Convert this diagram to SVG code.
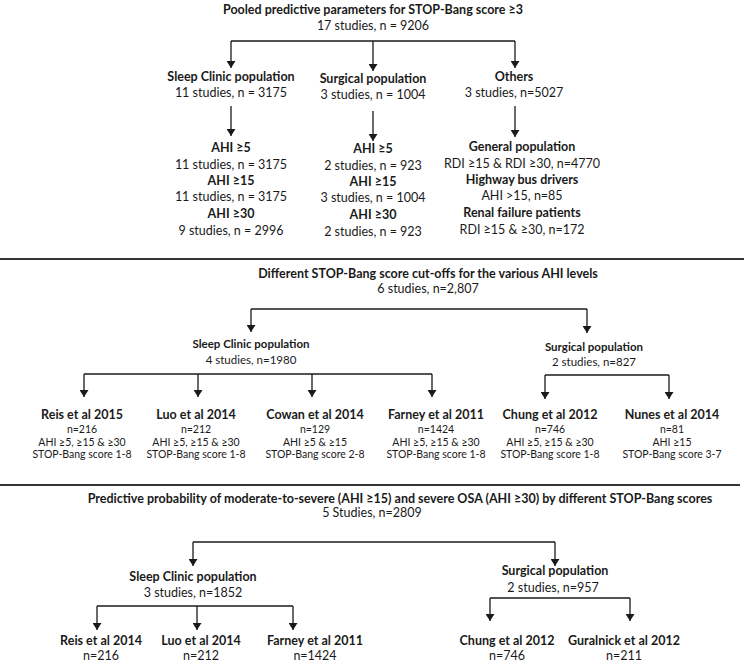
<svg xmlns="http://www.w3.org/2000/svg" width="744" height="669" viewBox="0 0 744 669">
<defs>
<marker id="ah" markerUnits="userSpaceOnUse" markerWidth="8" markerHeight="9" refX="7" refY="4.5" orient="auto">
<path d="M0,0 L7,4.5 L0,9 z" fill="#1a1a1a"/>
</marker>
<style>
text{font-family:Lato,"Liberation Sans",sans-serif;fill:#1a1a1a;text-anchor:middle}
.b{font-weight:bold;font-size:12.5px}
.r{font-size:12.5px}
.bm{font-weight:bold;font-size:11.5px}
.rm{font-size:11.5px}
.bn{font-weight:bold;font-size:12.5px}
.rs{font-size:10.5px}
.c{fill:none;stroke:#1a1a1a;stroke-width:1.3}
.a{marker-end:url(#ah)}
.sep{fill:none;stroke:#333;stroke-width:2}
</style>
</defs>
<rect width="744" height="669" fill="#fff"/>
<g id="connectors">
<path class="c" d="M231,41 H515"/>
<path class="c a" d="M231,41 V68"/>
<path class="c a" d="M373,41 V71"/>
<path class="c a" d="M515,41 V68"/>
<path class="c a" d="M231,106 V136"/>
<path class="c a" d="M373,111 V141"/>
<path class="c a" d="M515,106 V137"/>
<path class="sep" d="M0,259 H744"/>
<path class="c" d="M251,309 H587"/>
<path class="c a" d="M251,309 V332"/>
<path class="c a" d="M587,309 V333"/>
<path class="c" d="M84,374 H432"/>
<path class="c a" d="M84,374 V397"/>
<path class="c a" d="M198,374 V397"/>
<path class="c a" d="M312,374 V397"/>
<path class="c a" d="M432,374 V397"/>
<path class="c" d="M545,375 H669"/>
<path class="c a" d="M545,375 V399"/>
<path class="c a" d="M669,375 V399"/>
<path class="sep" d="M0,485 H740"/>
<path class="c" d="M193,542 H555"/>
<path class="c a" d="M193,542 V566"/>
<path class="c a" d="M555,542 V566"/>
<path class="c" d="M97,606 H293"/>
<path class="c a" d="M97,606 V630"/>
<path class="c a" d="M197,606 V630"/>
<path class="c a" d="M293,606 V630"/>
<path class="c" d="M490,598 H630"/>
<path class="c a" d="M490,598 V621"/>
<path class="c a" d="M630,598 V621"/>
</g>
<g id="pooled-root">
<text class="b" x="373" y="14">Pooled predictive parameters for STOP-Bang score ≥3</text>
<text class="r" x="373" y="30">17 studies, n = 9206</text>
</g>
<g id="pooled-sleep">
<text class="b" x="231" y="81">Sleep Clinic population</text>
<text class="r" x="231" y="97">11 studies, n = 3175</text>
</g>
<g id="pooled-surgical">
<text class="b" x="373" y="83">Surgical population</text>
<text class="r" x="373" y="99">3 studies, n = 1004</text>
</g>
<g id="pooled-others">
<text class="b" x="514" y="81">Others</text>
<text class="r" x="514" y="97">3 studies, n=5027</text>
</g>
<g id="pooled-sleep-ahi">
<text class="b" x="231" y="152">AHI ≥5</text>
<text class="r" x="231" y="168.5">11 studies, n = 3175</text>
<text class="b" x="231" y="185">AHI ≥15</text>
<text class="r" x="231" y="201">11 studies, n = 3175</text>
<text class="b" x="231" y="218">AHI ≥30</text>
<text class="r" x="231" y="235">9 studies, n = 2996</text>
</g>
<g id="pooled-surgical-ahi">
<text class="b" x="373" y="153">AHI ≥5</text>
<text class="r" x="373" y="170">2 studies, n = 923</text>
<text class="b" x="373" y="186">AHI ≥15</text>
<text class="r" x="373" y="202">3 studies, n = 1004</text>
<text class="b" x="373" y="219">AHI ≥30</text>
<text class="r" x="373" y="236">2 studies, n = 923</text>
</g>
<g id="pooled-others-list">
<text class="b" x="522" y="151">General population</text>
<text class="r" x="522" y="168">RDI ≥15 &amp; RDI ≥30, n=4770</text>
<text class="b" x="522" y="184">Highway bus drivers</text>
<text class="r" x="522" y="200">AHI &gt;15, n=85</text>
<text class="b" x="522" y="216.5">Renal failure patients</text>
<text class="r" x="522" y="234">RDI ≥15 &amp; ≥30, n=172</text>
</g>
<g id="cutoff-root">
<text class="b" x="428" y="278">Different STOP-Bang score cut-offs for the various AHI levels</text>
<text class="r" x="428" y="293">6 studies, n=2,807</text>
</g>
<g id="cutoff-sleep">
<text class="bm" x="251" y="348">Sleep Clinic population</text>
<text class="rm" x="251" y="364">4 studies, n=1980</text>
</g>
<g id="cutoff-surgical">
<text class="bm" x="594" y="351">Surgical population</text>
<text class="rm" x="594" y="366">2 studies, n=827</text>
</g>
<g id="cutoff-reis">
<text class="bn" x="82" y="419">Reis et al 2015</text>
<text class="rs" x="82" y="432.5">n=216</text>
<text class="rs" x="82" y="445.5">AHI ≥5, ≥15 &amp; ≥30</text>
<text class="rs" x="82" y="458">STOP-Bang score 1-8</text>
</g>
<g id="cutoff-luo">
<text class="bn" x="196" y="419">Luo et al 2014</text>
<text class="rs" x="196" y="432.5">n=212</text>
<text class="rs" x="196" y="445.5">AHI ≥5, ≥15 &amp; ≥30</text>
<text class="rs" x="196" y="458">STOP-Bang score 1-8</text>
</g>
<g id="cutoff-cowan">
<text class="bn" x="315" y="419">Cowan et al 2014</text>
<text class="rs" x="315" y="432.5">n=129</text>
<text class="rs" x="315" y="445.5">AHI ≥5 &amp; ≥15</text>
<text class="rs" x="315" y="458">STOP-Bang score 2-8</text>
</g>
<g id="cutoff-farney">
<text class="bn" x="436" y="419">Farney et al 2011</text>
<text class="rs" x="436" y="432.5">n=1424</text>
<text class="rs" x="436" y="445.5">AHI ≥5, ≥15 &amp; ≥30</text>
<text class="rs" x="436" y="458">STOP-Bang score 1-8</text>
</g>
<g id="cutoff-chung">
<text class="bn" x="550" y="419">Chung et al 2012</text>
<text class="rs" x="550" y="432.5">n=746</text>
<text class="rs" x="550" y="445.5">AHI ≥5, ≥15 &amp; ≥30</text>
<text class="rs" x="550" y="458">STOP-Bang score 1-8</text>
</g>
<g id="cutoff-nunes">
<text class="bn" x="672" y="419">Nunes et al 2014</text>
<text class="rs" x="672" y="432.5">n=81</text>
<text class="rs" x="672" y="445.5">AHI ≥15</text>
<text class="rs" x="672" y="458">STOP-Bang score 3-7</text>
</g>
<g id="prob-root">
<text class="b" x="400" y="503">Predictive probability of moderate-to-severe (AHI ≥15) and severe OSA (AHI ≥30) by different STOP-Bang scores</text>
<text class="r" x="372" y="517">5 Studies, n=2809</text>
</g>
<g id="prob-sleep">
<text class="b" x="193" y="581">Sleep Clinic population</text>
<text class="r" x="193" y="597">3 studies, n=1852</text>
</g>
<g id="prob-surgical">
<text class="b" x="555" y="575">Surgical population</text>
<text class="r" x="553" y="592">2 studies, n=957</text>
</g>
<g id="prob-reis">
<text class="b" x="101" y="645">Reis et al 2014</text>
<text class="r" x="101" y="660">n=216</text>
</g>
<g id="prob-luo">
<text class="b" x="201" y="645">Luo et al 2014</text>
<text class="r" x="201" y="660">n=212</text>
</g>
<g id="prob-farney">
<text class="b" x="315" y="645">Farney et al 2011</text>
<text class="r" x="315" y="660">n=1424</text>
</g>
<g id="prob-chung">
<text class="b" x="507" y="645">Chung et al 2012</text>
<text class="r" x="507" y="660">n=746</text>
</g>
<g id="prob-guralnick">
<text class="b" x="624" y="645">Guralnick et al 2012</text>
<text class="r" x="624" y="660">n=211</text>
</g>
</svg>
